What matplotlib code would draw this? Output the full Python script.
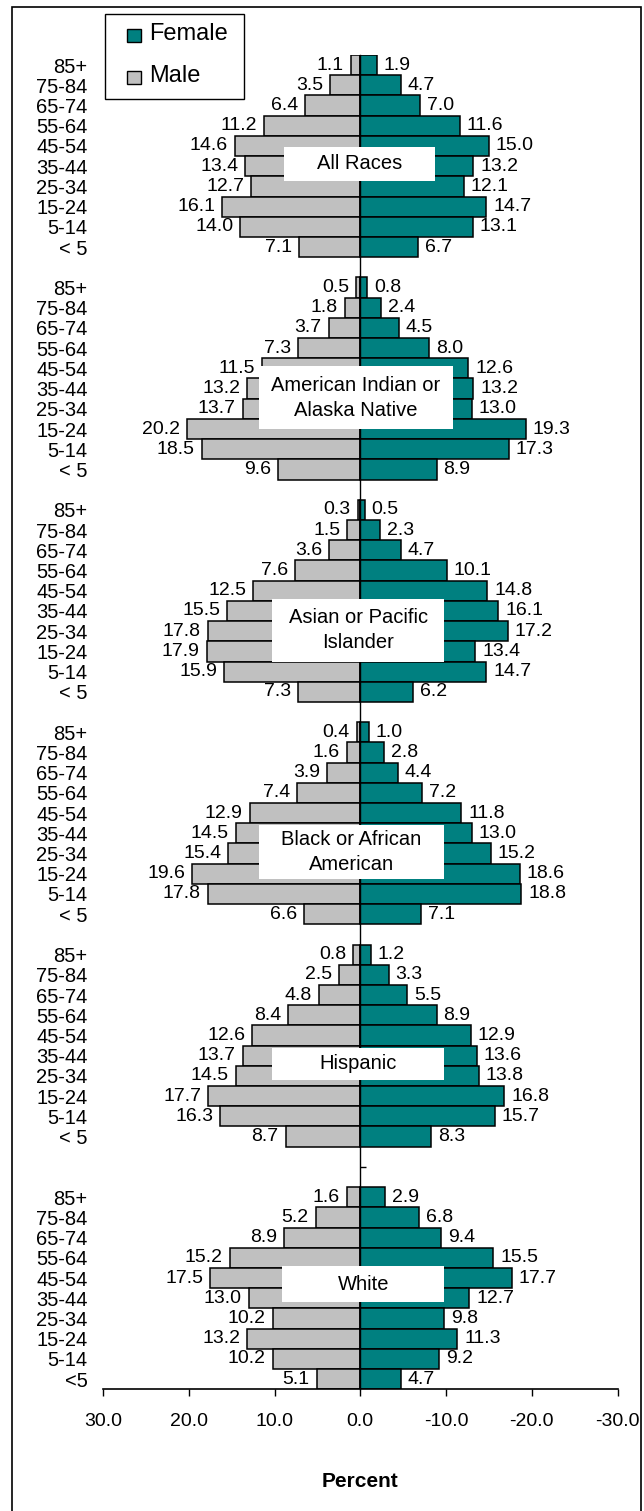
import numpy as np
import matplotlib
matplotlib.use("Agg")
import matplotlib.pyplot as plt
from matplotlib.patches import Rectangle
from matplotlib.ticker import FixedLocator, FormatStrFormatter

plt.rcParams['font.family'] = ['Liberation Sans', 'DejaVu Sans']

# --- data (top to bottom) ---
groups = ['All Races', 'American Indian or\nAlaska Native', 'Asian or Pacific\nIslander',
          'Black or African\nAmerican', 'Hispanic', 'White']
ages = ['85+', '75-84', '65-74', '55-64', '45-54', '35-44', '25-34', '15-24', '5-14', '< 5']
ages_white = ['85+', '75-84', '65-74', '55-64', '45-54', '35-44', '25-34', '15-24', '5-14', '<5']

male_all = [1.1, 3.5, 6.4, 11.2, 14.6, 13.4, 12.7, 16.1, 14.0, 7.1]
female_all = [1.9, 4.7, 7.0, 11.6, 15.0, 13.2, 12.1, 14.7, 13.1, 6.7]
male_aian = [0.5, 1.8, 3.7, 7.3, 11.5, 13.2, 13.7, 20.2, 18.5, 9.6]
female_aian = [0.8, 2.4, 4.5, 8.0, 12.6, 13.2, 13.0, 19.3, 17.3, 8.9]
male_api = [0.3, 1.5, 3.6, 7.6, 12.5, 15.5, 17.8, 17.9, 15.9, 7.3]
female_api = [0.5, 2.3, 4.7, 10.1, 14.8, 16.1, 17.2, 13.4, 14.7, 6.2]
male_black = [0.4, 1.6, 3.9, 7.4, 12.9, 14.5, 15.4, 19.6, 17.8, 6.6]
female_black = [1.0, 2.8, 4.4, 7.2, 11.8, 13.0, 15.2, 18.6, 18.8, 7.1]
male_hisp = [0.8, 2.5, 4.8, 8.4, 12.6, 13.7, 14.5, 17.7, 16.3, 8.7]
female_hisp = [1.2, 3.3, 5.5, 8.9, 12.9, 13.6, 13.8, 16.8, 15.7, 8.3]
male_white = [1.6, 5.2, 8.9, 15.2, 17.5, 13.0, 10.2, 13.2, 10.2, 5.1]
female_white = [2.9, 6.8, 9.4, 15.5, 17.7, 12.7, 9.8, 11.3, 9.2, 4.7]

males = [male_all, male_aian, male_api, male_black, male_hisp, male_white]
females = [female_all, female_aian, female_api, female_black, female_hisp, female_white]

MALE_C = '#C0C0C0'
FEMALE_C = '#008080'

# layout: gap rows between groups, title boxes (x left, x right, y top, y bottom)
gaps = [1, 1, 1, 1, 2]
starts = [0]
for g in gaps:
    starts.append(starts[-1] + 10 + g)
boxes = [(8.9, -8.7, 4.04, 5.72), (11.84, -10.87, 14.9, 18.0), (10.29, -9.81, 26.4, 29.5),
         (11.84, -9.81, 37.57, 40.25), (10.29, -9.81, 48.6, 50.2), (9.13, -9.81, 59.4, 61.2)]

W, H = 644, 1511
fig = plt.figure(figsize=(W / 100, H / 100), dpi=100)
ax = fig.add_axes([103 / W, 1 - 1389.3 / H, (617.5 - 103) / W, (1389.3 - 55) / H])

yticks, ylabels = [], []
for i, name in enumerate(groups):
    y = starts[i] + np.arange(10)
    m = np.array(males[i])
    f = np.array(females[i])
    ax.barh(y, m, height=1.0, color=MALE_C, edgecolor='black', linewidth=1.1)
    ax.barh(y, -f, height=1.0, color=FEMALE_C, edgecolor='black', linewidth=1.1)
    for yy, v in zip(y, m):
        ax.annotate(f'{v:.1f}', (v, yy), xytext=(-5, 0), textcoords='offset points',
                    ha='right', va='center', fontsize=14)
    for yy, v in zip(y, f):
        ax.annotate(f'{v:.1f}', (-v, yy), xytext=(5, 0), textcoords='offset points',
                    ha='left', va='center', fontsize=14)
    yticks += list(y)
    ylabels += ages_white if name == 'White' else ages

    x0, x1, y0, y1 = boxes[i]
    ax.add_patch(Rectangle((x1, y0), x0 - x1, y1 - y0, facecolor='white',
                           edgecolor='none', zorder=4))
    ax.text((x0 + x1) / 2, (y0 + y1) / 2, name, ha='center', va='center',
            fontsize=14.5, linespacing=1.4, zorder=5)

ax.set_xlim(30, -30)
ax.set_ylim(starts[-1] + 9.5, -0.5)

ax.yaxis.set_major_locator(FixedLocator(yticks))
ax.set_yticklabels(ylabels)
ax.yaxis.set_minor_locator(FixedLocator([starts[-1] - 1.5]))
ax.tick_params(axis='y', which='major', length=0, pad=11, labelsize=14.5, right=False)
ax.tick_params(axis='y', which='minor', left=False, right=True, length=4, width=1,
               direction='out')

ax.set_xticks(np.arange(30, -31, -10))
ax.xaxis.set_major_formatter(FormatStrFormatter('%.1f'))
ax.tick_params(axis='x', length=5, width=1, pad=12, labelsize=14)

ax.spines['left'].set_visible(False)
ax.spines['top'].set_visible(False)
ax.spines['right'].set_position(('data', 0))
ax.spines['right'].set_linewidth(1.0)
ax.spines['bottom'].set_linewidth(1.2)

ax.set_xlabel('Percent', fontsize=15, fontweight='bold', labelpad=30)

# legend drawn by hand to match the boxed Excel legend
def fx(px):
    return px / W

def fy(py):
    return 1 - py / H

fig.add_artist(Rectangle((fx(105), fy(99)), fx(244) - fx(105), fy(14) - fy(99),
                         transform=fig.transFigure, fill=False, edgecolor='black', lw=1.0))
for label, col, yc in [('Female', FEMALE_C, 35), ('Male', MALE_C, 77)]:
    fig.add_artist(Rectangle((fx(127), fy(yc + 6.5)), fx(141) - fx(127), fy(yc - 6.5) - fy(yc + 6.5),
                             transform=fig.transFigure, facecolor=col, edgecolor='black', lw=1.0))
    fig.text(fx(149), fy(yc - 1), label, ha='left', va='center', fontsize=17)

# outer frame (open at the bottom edge of the image)
fig.add_artist(Rectangle((fx(12), fy(1530)), fx(641) - fx(12), fy(7) - fy(1530),
                         transform=fig.transFigure, fill=False, edgecolor='black', lw=1.2,
                         clip_on=False))

fig.savefig('out.png', dpi=100)
